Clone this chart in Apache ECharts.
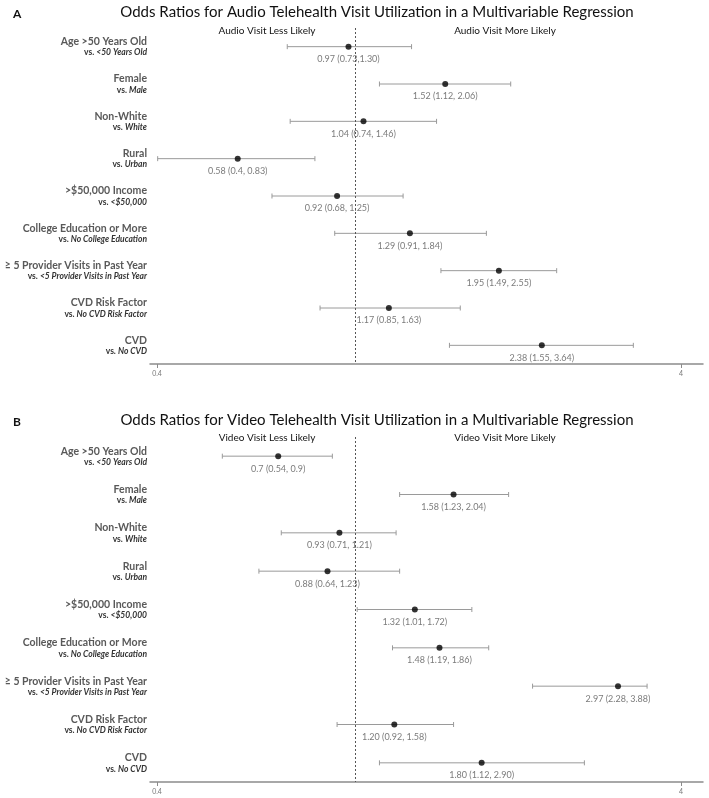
<!DOCTYPE html>
<html>
<head>
<meta charset="utf-8">
<script src="https://cdn.jsdelivr.net/npm/echarts@6/dist/echarts.min.js"></script>
<style>
html,body{margin:0;padding:0;background:#fff;}
#chart{width:709px;height:798px;}
</style>
</head>
<body>
<div id="chart"></div>
<script>
// ---- Data ----
const categories = ['Age >50 Years Old', 'Female', 'Non-White', 'Rural', '>$50,000 Income',
  'College Education or More', '\u2265 5 Provider Visits in Past Year', 'CVD Risk Factor', 'CVD'];
const referenceGroups = ['<50 Years Old', 'Male', 'White', 'Urban', '<$50,000',
  'No College Education', '<5 Provider Visits in Past Year', 'No CVD Risk Factor', 'No CVD'];

const audioOR   = [0.97, 1.52, 1.04, 0.58, 0.92, 1.29, 1.95, 1.17, 2.38];
const audioLow  = [0.73, 1.12, 0.74, 0.40, 0.68, 0.91, 1.49, 0.85, 1.55];
const audioHigh = [1.30, 2.06, 1.46, 0.83, 1.25, 1.84, 2.55, 1.63, 3.64];
const audioText = ['0.97 (0.73,1.30)', '1.52 (1.12, 2.06)', '1.04 (0.74, 1.46)', '0.58 (0.4, 0.83)',
  '0.92 (0.68, 1.25)', '1.29 (0.91, 1.84)', '1.95 (1.49, 2.55)', '1.17 (0.85, 1.63)', '2.38 (1.55, 3.64)'];

// point for ">= 5 visits" is drawn in the picture at about 3.39 (its label reads 2.97)
const videoOR   = [0.70, 1.58, 0.93, 0.88, 1.32, 1.48, 3.39, 1.20, 1.80];
const videoLow  = [0.54, 1.23, 0.71, 0.64, 1.01, 1.19, 2.28, 0.92, 1.12];
const videoHigh = [0.90, 2.04, 1.21, 1.23, 1.72, 1.86, 3.88, 1.58, 2.90];
const videoText = ['0.7 (0.54, 0.9)', '1.58 (1.23, 2.04)', '0.93 (0.71, 1.21)', '0.88 (0.64, 1.23)',
  '1.32 (1.01, 1.72)', '1.48 (1.19, 1.86)', '2.97 (2.28, 3.88)', '1.20 (0.92, 1.58)', '1.80 (1.12, 2.90)'];

const tickLabels = ['0.4', '4'];

// ---- Chart ----
const FONT = 'Lato, "Open Sans", sans-serif';
const chart = echarts.init(document.getElementById('chart'));

function catLabel(v, i) {
  return '{a|' + categories[i] + '}\n{v|vs. }{i|' + referenceGroups[i] + '}';
}

const yRich = {
  a: {fontFamily: FONT, fontWeight: 'bold', fontSize: 10.5, color: '#595959', lineHeight: 12, align: 'right'},
  v: {fontFamily: FONT, fontWeight: 'bold', fontSize: 8.5, color: '#333', lineHeight: 10, align: 'right'},
  i: {fontFamily: FONT, fontWeight: 'bold', fontStyle: 'italic', fontSize: 8.5, color: '#333', lineHeight: 10, align: 'right'}
};

function yAxisDef(gi) {
  return {
    type: 'category', gridIndex: gi, data: categories, inverse: true,
    axisLine: {show: false}, axisTick: {show: false}, splitLine: {show: false},
    axisLabel: {margin: 3, formatter: catLabel, rich: yRich, align: 'right'}
  };
}

// hidden log axis for data, plus a display axis for the "0.4" and "4" labels
function xAxesDef(gi) {
  return [
    {type: 'log', gridIndex: gi, logBase: 10, min: 0.386, max: 5.03, show: false},
    {type: 'value', gridIndex: gi, min: -0.0134, max: 1.042, position: 'bottom',
      axisLine: {show: true, lineStyle: {color: '#8c8c8c', width: 1.5}},
      axisTick: {show: true, length: 4, customValues: [0, 1], lineStyle: {color: '#8c8c8c'}},
      axisLabel: {customValues: [0, 1], formatter: v => tickLabels[Math.round(v)] || '',
        fontFamily: FONT, fontSize: 7, color: '#777', margin: 6},
      splitLine: {show: false}}
  ];
}

function whiskerSeries(gi, low, high) {
  return {
    type: 'custom', xAxisIndex: gi * 2, yAxisIndex: gi,
    data: low.map((l, i) => [l, high[i], i]),
    encode: {x: [0, 1], y: 2},
    renderItem: function (params, api) {
      const p1 = api.coord([api.value(0), api.value(2)]);
      const p2 = api.coord([api.value(1), api.value(2)]);
      const st = {stroke: '#9a9a9a', lineWidth: 1};
      return {type: 'group', children: [
        {type: 'line', shape: {x1: p1[0], y1: p1[1], x2: p2[0], y2: p2[1]}, style: st},
        {type: 'line', shape: {x1: p1[0], y1: p1[1] - 2.5, x2: p1[0], y2: p1[1] + 2.5}, style: st},
        {type: 'line', shape: {x1: p2[0], y1: p2[1] - 2.5, x2: p2[0], y2: p2[1] + 2.5}, style: st}
      ]};
    },
    z: 2
  };
}

function pointSeries(gi, or, txt) {
  return {
    type: 'scatter', xAxisIndex: gi * 2, yAxisIndex: gi,
    data: or.map((v, i) => [v, i]),
    symbolSize: 6, itemStyle: {color: '#000'},
    label: {show: true, position: 'bottom', distance: 5,
      formatter: p => txt[p.dataIndex], fontFamily: FONT, fontSize: 9, color: '#595959'},
    markLine: {silent: true, symbol: 'none', label: {show: false},
      lineStyle: {type: [2, 2], color: '#555', width: 1},
      data: [{xAxis: 1}]},
    z: 3
  };
}

const titleStyle = {fontFamily: FONT, fontSize: 15, fontWeight: 'normal', color: '#111'};
const subStyle = {fontFamily: FONT, fontSize: 10, fontWeight: 'normal', color: '#111'};
const letterStyle = {fontFamily: FONT, fontSize: 12, fontWeight: 'bold', color: '#111'};

chart.setOption({
  animation: false,
  backgroundColor: '#fff',
  title: [
    {text: 'A', left: 8, top: 3, textStyle: letterStyle},
    {text: 'Odds Ratios for Audio Telehealth Visit Utilization in a Multivariable Regression', left: 372, textAlign: 'center', top: 0, textStyle: titleStyle},
    {text: 'Audio Visit Less Likely', left: 262, textAlign: 'center', top: 21, textStyle: subStyle},
    {text: 'Audio Visit More Likely', left: 500, textAlign: 'center', top: 21, textStyle: subStyle},
    {text: 'B', left: 8, top: 411, textStyle: letterStyle},
    {text: 'Odds Ratios for Video Telehealth Visit Utilization in a Multivariable Regression', left: 372, textAlign: 'center', top: 408, textStyle: titleStyle},
    {text: 'Video Visit Less Likely', left: 262, textAlign: 'center', top: 428, textStyle: subStyle},
    {text: 'Video Visit More Likely', left: 500, textAlign: 'center', top: 428, textStyle: subStyle}
  ],
  grid: [
    {left: 150, right: 6, top: 28, height: 336, containLabel: false, outerBoundsMode: 'none'},
    {left: 150, right: 6, top: 437, height: 345, containLabel: false, outerBoundsMode: 'none'}
  ],
  xAxis: [...xAxesDef(0), ...xAxesDef(1)],
  yAxis: [yAxisDef(0), yAxisDef(1)],
  series: [
    whiskerSeries(0, audioLow, audioHigh),
    pointSeries(0, audioOR, audioText),
    whiskerSeries(1, videoLow, videoHigh),
    pointSeries(1, videoOR, videoText)
  ]
});
</script>
</body>
</html>
